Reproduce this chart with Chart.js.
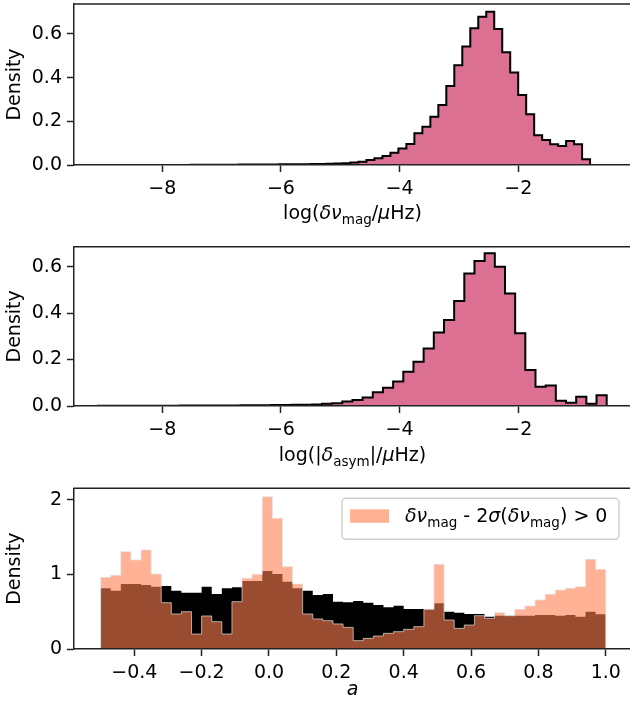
<!DOCTYPE html>
<html>
<head>
<meta charset="utf-8">
<script src="https://cdn.jsdelivr.net/npm/chart.js@4"></script>
<style>
  body { margin: 0; background: #fff; width: 630px; height: 703px; overflow: hidden; position: relative; }
  canvas { position: absolute; left: 0; }
</style>
</head>
<body>
<canvas id="magChart" width="630" height="230" style="top:0px"></canvas>
<canvas id="asymChart" width="630" height="230" style="top:240px"></canvas>
<canvas id="aChart" width="630" height="223" style="top:480px"></canvas>
<script>
Chart.defaults.font.family = '"DejaVu Sans", sans-serif';
Chart.defaults.font.size = 19;
Chart.defaults.color = '#000';

// ---- data (50 bins per histogram, density values) ----
const magRange = [-7.52, -0.79];
const magDensity = [
  0.001, 0.001, 0.001, 0.001, 0.001, 0.001, 0.002, 0.002, 0.002, 0.002,
  0.002, 0.003, 0.003, 0.004, 0.004, 0.005, 0.005, 0.006, 0.007, 0.008,
  0.011, 0.015, 0.023, 0.031, 0.041, 0.056, 0.075, 0.096, 0.145, 0.175,
  0.221, 0.275, 0.362, 0.457, 0.542, 0.626, 0.679, 0.702, 0.623, 0.516,
  0.423, 0.321, 0.232, 0.136, 0.115, 0.095, 0.087, 0.110, 0.095, 0.026
];

const asymRange = [-9.08, -0.51];
const asymDensity = [
  0.001, 0.001, 0.001, 0.001, 0.001, 0.001, 0.001, 0.001, 0.002, 0.002,
  0.002, 0.002, 0.002, 0.002, 0.003, 0.003, 0.003, 0.004, 0.004, 0.005,
  0.005, 0.006, 0.010, 0.012, 0.019, 0.026, 0.037, 0.059, 0.079, 0.105,
  0.148, 0.191, 0.248, 0.317, 0.370, 0.452, 0.571, 0.624, 0.658, 0.600,
  0.485, 0.313, 0.155, 0.083, 0.088, 0.023, 0.014, 0.040, 0.010, 0.046
];

const aRange = [-0.5, 1.0];
const aAll = [
  0.815, 0.783, 0.872, 0.872, 0.859, 0.836, 0.846, 0.783, 0.756, 0.756,
  0.836, 0.738, 0.815, 0.828, 0.913, 0.913, 1.047, 1.007, 0.904, 0.815,
  0.783, 0.725, 0.738, 0.635, 0.626, 0.644, 0.622, 0.591, 0.559, 0.582,
  0.537, 0.537, 0.532, 0.613, 0.501, 0.488, 0.470, 0.470, 0.434, 0.447,
  0.447, 0.447, 0.447, 0.456, 0.456, 0.447, 0.456, 0.434, 0.501, 0.465
];
const aMagDetected = [
  0.962, 0.990, 1.306, 1.195, 1.329, 1.007, 0.622, 0.470, 0.501, 0.201,
  0.443, 0.367, 0.201, 0.635, 0.949, 1.002, 2.044, 1.754, 1.105, 0.872,
  0.470, 0.403, 0.380, 0.336, 0.290, 0.112, 0.143, 0.174, 0.210, 0.233,
  0.264, 0.300, 0.532, 1.136, 0.389, 0.277, 0.322, 0.447, 0.412, 0.488,
  0.447, 0.532, 0.577, 0.658, 0.734, 0.792, 0.814, 0.837, 1.203, 1.069
];

const logTicks = [-8, -6, -4, -2];
const aTicks = [-0.4, -0.2, 0.0, 0.2, 0.4, 0.6, 0.8, 1.0];
const densTicksTop = [0, 0.2, 0.4, 0.6];
const densTicksA = [0, 1, 2];

const pink = '#db7093';
const salmon = 'rgba(255,127,80,0.6)';
const axisColor = '#222';

// histogram outline as stepped points: start, bin right edges, end
function stepPoints(range, vals) {
  const w = (range[1] - range[0]) / vals.length;
  const pts = [{x: range[0], y: 0}];
  vals.forEach(function(v, i) { pts.push({x: range[0] + (i + 1) * w, y: v}); });
  pts.push({x: range[1], y: 0});
  return pts;
}

function fmt(v, dec) {
  return (v < 0 ? '\u2212' : '') + Math.abs(v).toFixed(dec);
}

function xAxis(min, max, ticks, dec, h) {
  return {
    type: 'linear', min: min, max: max,
    afterBuildTicks: function(s) { s.ticks = ticks.map(function(v) { return {value: v}; }); },
    afterFit: function(s) { s.height = h; s.paddingLeft = 0; s.paddingRight = 0; },
    ticks: {autoSkip: false, maxRotation: 0, padding: 6, callback: function(v) { return fmt(v, dec); }},
    grid: {drawOnChartArea: false, tickLength: 7, tickWidth: 1.5, tickColor: axisColor},
    border: {color: axisColor, width: 1.5, z: 1}
  };
}

function yAxis(max, ticks, dec) {
  return {
    type: 'linear', min: 0, max: max,
    afterBuildTicks: function(s) { s.ticks = ticks.map(function(v) { return {value: v}; }); },
    afterFit: function(s) { s.width = 74; s.paddingTop = 0; s.paddingBottom = 0; },
    ticks: {autoSkip: false, padding: 5, callback: function(v) { return fmt(v, dec); }},
    grid: {drawOnChartArea: false, tickLength: 7, tickWidth: 1.5, tickColor: axisColor},
    border: {color: axisColor, width: 1.5, z: 1},
    title: {display: true, text: 'Density', padding: {top: 4, bottom: 0}}
  };
}

// text with italic greek and roman subscripts, like matplotlib mathtext
function drawMath(ctx, parts, x, y, center) {
  function fontFor(st) {
    return (st === 'i' ? 'italic ' : '') + (st === 's' ? '13.5px' : '19px') + ' "DejaVu Sans"';
  }
  let w = 0;
  parts.forEach(function(p) { ctx.font = fontFor(p[1]); w += ctx.measureText(p[0]).width; });
  let cx = center ? x - w / 2 : x;
  ctx.save();
  ctx.fillStyle = '#000';
  ctx.textAlign = 'left';
  ctx.textBaseline = 'alphabetic';
  parts.forEach(function(p) {
    ctx.font = fontFor(p[1]);
    ctx.fillText(p[0], cx, y + (p[1] === 's' ? 4.5 : 0));
    cx += ctx.measureText(p[0]).width;
  });
  ctx.restore();
}

function framePlugin(label, dy, extra) {
  return {
    id: 'frame',
    afterDraw: function(chart) {
      const ctx = chart.ctx, a = chart.chartArea;
      ctx.save();
      ctx.strokeStyle = axisColor;
      ctx.lineWidth = 1.5;
      ctx.beginPath();
      ctx.moveTo(a.left - 0.75, a.top);
      ctx.lineTo(a.right, a.top);
      ctx.stroke();
      ctx.restore();
      drawMath(ctx, label, (a.left + 631) / 2, a.bottom + dy, true);
      if (extra) extra(chart);
    }
  };
}

function lineSet(pts, fillColor, lineColor, lw) {
  return {
    data: pts, stepped: 'after', fill: 'origin',
    backgroundColor: fillColor, borderColor: lineColor, borderWidth: lw,
    pointRadius: 0, tension: 0
  };
}

function baseOptions(xs, ys, top) {
  return {
    responsive: false, animation: false, devicePixelRatio: 1,
    layout: {padding: {top: top, left: 0, right: 0, bottom: 0}},
    plugins: {legend: {display: false}, tooltip: {enabled: false}},
    scales: {x: xs, y: ys}
  };
}

new Chart(document.getElementById('magChart'), {
  type: 'line',
  data: {datasets: [lineSet(stepPoints(magRange, magDensity), pink, '#000', 2)]},
  options: baseOptions(xAxis(-9.488, -0.117, logTicks, 0, 65), yAxis(0.737, densTicksTop, 1), 4),
  plugins: [framePlugin([['log(', ''], ['\u03b4\u03bd', 'i'], ['mag', 's'], ['/', ''], ['\u03bc', 'i'], ['Hz)', '']], 54)]
});

new Chart(document.getElementById('asymChart'), {
  type: 'line',
  data: {datasets: [lineSet(stepPoints(asymRange, asymDensity), pink, '#000', 2)]},
  options: baseOptions(xAxis(-9.488, -0.117, logTicks, 0, 64), yAxis(0.686, densTicksTop, 1), 6.7),
  plugins: [framePlugin([['log(|', ''], ['\u03b4', 'i'], ['asym', 's'], ['|/', ''], ['\u03bc', 'i'], ['Hz)', '']], 55)]
});

function drawLegend(chart) {
  const ctx = chart.ctx;
  const x0 = 342, y0 = 18.3, w = 277, h = 41;
  ctx.save();
  ctx.fillStyle = 'rgba(255,255,255,0.8)';
  ctx.strokeStyle = '#d0d0d0';
  ctx.lineWidth = 1.5;
  ctx.beginPath();
  ctx.roundRect(x0, y0, w, h, 4);
  ctx.fill();
  ctx.stroke();
  ctx.fillStyle = salmon;
  ctx.fillRect(350, y0 + 11, 39, 13.5);
  ctx.restore();
  drawMath(ctx, [['\u03b4\u03bd', 'i'], ['mag', 's'], [' - 2', ''], ['\u03c3', 'i'], ['(', ''], ['\u03b4\u03bd', 'i'],
    ['mag', 's'], [') > 0', '']], 405, y0 + 24, false);
}

new Chart(document.getElementById('aChart'), {
  type: 'line',
  data: {datasets: [
    lineSet(stepPoints(aRange, aMagDetected), salmon, 'rgba(225,225,225,0.7)', 1),
    lineSet(stepPoints(aRange, aAll), '#000', '#000', 0)
  ]},
  options: baseOptions(xAxis(-0.579, 1.072, aTicks, 1, 54), yAxis(2.157, densTicksA, 0), 8.3),
  plugins: [framePlugin([['a', 'i']], 46, drawLegend)]
});
</script>
</body>
</html>
